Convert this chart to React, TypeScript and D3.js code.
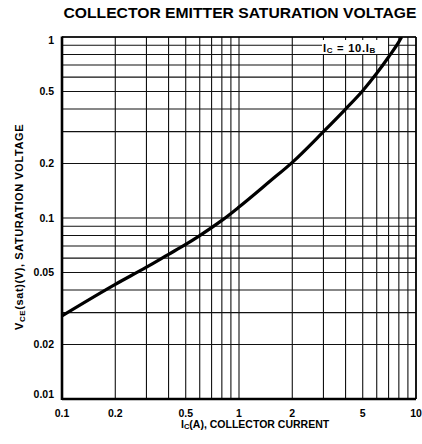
import * as d3 from 'd3';
import React from 'react';

// values (Ic in A, Vce(sat) in V)
const collectorCurrent = [0.1, 0.2, 0.3, 0.4, 0.5, 0.6, 0.8, 1, 1.5, 2, 3, 4, 5, 6, 7, 8, 8.3];
const saturationVoltage = [0.0288, 0.043, 0.0535, 0.063, 0.0715, 0.08, 0.097, 0.115, 0.16, 0.203, 0.3, 0.4, 0.505, 0.63, 0.775, 0.94, 1.0];

const xTickLabels = [0.1, 0.2, 0.5, 1, 2, 5, 10];
const yTickLabels = [0.01, 0.02, 0.05, 0.1, 0.2, 0.5, 1];

const title = 'COLLECTOR EMITTER SATURATION VOLTAGE';

const W = 422;
const H = 444;
const margin = { top: 37, right: 6, bottom: 45, left: 62 };
const font = '"Liberation Sans", Arial, Helvetica, sans-serif';

const App: React.FC = () => {
  const x = d3
    .scaleLog()
    .domain([0.1, 10])
    .range([margin.left, W - margin.right]);
  const y = d3
    .scaleLog()
    .domain([0.01, 1])
    .range([H - margin.bottom, margin.top]);

  const x0 = margin.left;
  const x1 = W - margin.right;
  const y0 = H - margin.bottom;
  const y1 = margin.top;

  const points = collectorCurrent.map((c, i) => [c, saturationVoltage[i]] as [number, number]);
  const line = d3
    .line<[number, number]>()
    .x((d) => x(d[0]))
    .y((d) => y(d[1]))
    .curve(d3.curveMonotoneX);

  const fmt = (v: number) => String(v);

  return (
    <svg
      width={W}
      height={H}
      style={{ position: 'fixed', left: 0, top: 0, background: '#fff' }}
      fontFamily={font}
    >
      <rect x={0} y={0} width={W} height={H} fill="#fff" />

      <text
        x={(x0 + x1) / 2 + 1}
        y={18.3}
        textAnchor="middle"
        fontSize={15.4}
        fontWeight="bold"
        textLength={353}
        lengthAdjust="spacingAndGlyphs"
      >
        {title}
      </text>

      {/* grid */}
      <g stroke="#111" strokeWidth={1.1}>
        {x.ticks().map((t) => (
          <line key={'gx' + t} x1={x(t)} x2={x(t)} y1={y1} y2={y0} />
        ))}
        {y.ticks().map((t) => (
          <line key={'gy' + t} x1={x0} x2={x1} y1={y(t)} y2={y(t)} />
        ))}
      </g>

      {/* clipped curve so it stops at the top border */}
      <defs>
        <clipPath id="plot">
          <rect x={x0} y={y1} width={x1 - x0} height={y0 - y1} />
        </clipPath>
      </defs>

      {/* label box */}
      <rect x={322} y={40} width={66} height={14} fill="#fff" />
      <text x={323} y={51.5} fontSize={11.2} fontWeight="bold" letterSpacing={0.7}>
        I
        <tspan fontSize={8} dy={1.5}>C</tspan>
        <tspan dy={-1.5}> = 10.I</tspan>
        <tspan fontSize={8} dy={1.5}>B</tspan>
      </text>

      {/* frame */}
      <line x1={x0} x2={x0} y1={y1 - 0.5} y2={y0 + 1} stroke="#000" strokeWidth={2.6} />
      <line x1={x0} x2={x1} y1={y0} y2={y0} stroke="#000" strokeWidth={2.6} />
      <line x1={x0} x2={x1} y1={y1} y2={y1} stroke="#000" strokeWidth={1.6} />
      <line x1={x1} x2={x1} y1={y1} y2={y0} stroke="#000" strokeWidth={1.6} />

      {/* curve */}
      <path
        d={line(points) || ''}
        fill="none"
        stroke="#000"
        strokeWidth={3.2}
        clipPath="url(#plot)"
      />

      {/* y tick labels */}
      {yTickLabels.map((v) => (
        <text
          key={'yl' + v}
          x={54}
          y={Math.min(Math.max(y(v), y1 + 3), y0 - 5)}
          dy="0.35em"
          textAnchor="end"
          fontSize={10.5}
          fontWeight="bold"
        >
          {fmt(v)}
        </text>
      ))}

      {/* x tick labels */}
      {xTickLabels.map((v) => (
        <text
          key={'xl' + v}
          x={Math.max(x(v), x0 - 2)}
          y={417}
          textAnchor="middle"
          fontSize={10.5}
          fontWeight="bold"
        >
          {fmt(v)}
        </text>
      ))}

      {/* x axis title */}
      <text x={181} y={427.5} fontSize={10.5} fontWeight="bold">
        I<tspan fontSize={7.5} dy={1.5}>C</tspan>
        <tspan dy={-1.5}>(A), COLLECTOR CURRENT</tspan>
      </text>

      {/* y axis title */}
      <text
        transform={`translate(23, 330) rotate(-90)`}
        fontSize={11}
        fontWeight="bold"
        letterSpacing={0.6}
      >
        V<tspan fontSize={8} dy={1.5}>CE</tspan>
        <tspan dy={-1.5}>(sat)(V), SATURATION VOLTAGE</tspan>
      </text>
    </svg>
  );
};

export default App;
